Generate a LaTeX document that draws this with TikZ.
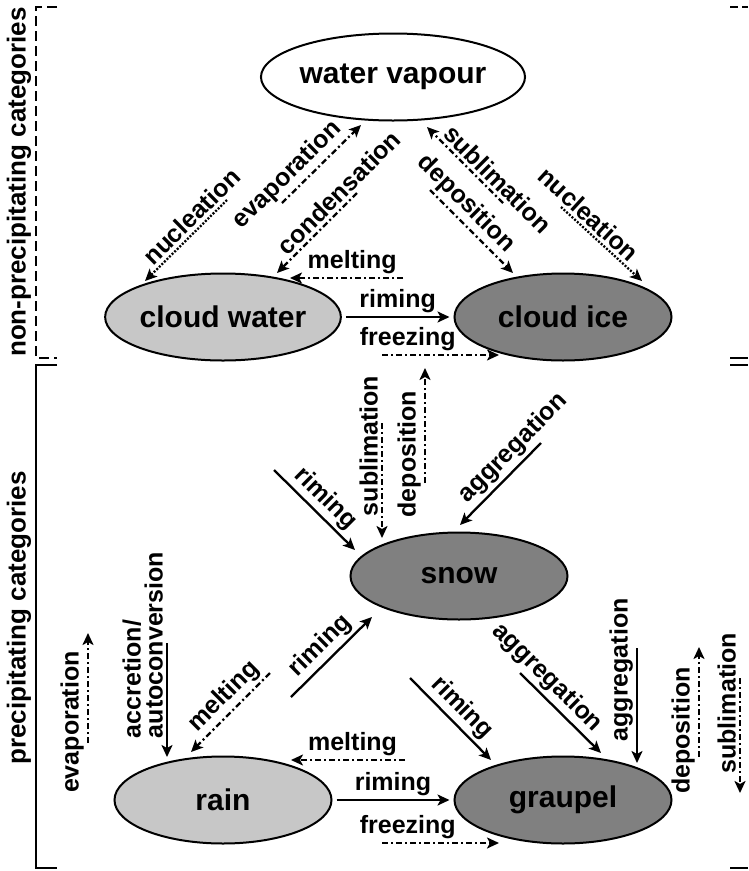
\documentclass[tikz,border=0pt]{standalone}
\usepackage{fontspec}
\setmainfont{Liberation Sans}
\usetikzlibrary{shapes.geometric, arrows.meta}

\definecolor{liquidgray}{gray}{0.78}
\definecolor{icegray}{gray}{0.5}

\begin{document}
\begin{tikzpicture}[x=1pt, y=-1pt,
    category/.style={ellipse, draw, line width=2pt, minimum width=217pt, minimum height=87pt,
                     inner sep=0pt, font=\fontsize{30}{36}\selectfont\bfseries},
    proc/.style={line width=2.3pt, -{Stealth[length=12pt, width=11pt, inset=3pt]}},
    phase/.style={proc, dash pattern=on 6pt off 3pt on 2pt off 3pt},
    seed/.style={proc, dash pattern=on 2pt off 1.6pt},
    lbl/.style={font=\fontsize{25}{22}\selectfont\bfseries, inner sep=3pt},
    side/.style={font=\fontsize{26}{30}\selectfont\bfseries, rotate=90},
    bracket/.style={line width=1.5pt}]
    \useasboundingbox (0,0) rectangle (748,871);

    % categories
    \node[category, fill=white]      (vapour)  at (393,77)  {water vapour};
    \node[category, fill=liquidgray] (cwater)  at (223,317) {cloud water};
    \node[category, fill=icegray]    (cice)    at (563,317) {cloud ice};
    \node[category, fill=icegray]    (snow)    at (459,576) {snow};
    \node[category, fill=liquidgray] (rain)    at (223,800) {rain};
    \node[category, fill=icegray]    (graupel) at (563,800) {graupel};

    % brackets on the left and right
    \draw[bracket, dash pattern=on 10pt off 5pt] (57,7) -- (36,7) -- (36,358) -- (57,358);
    \draw[bracket] (57,365) -- (36,365) -- (36,868) -- (57,868);
    \draw[bracket, dash pattern=on 8pt off 4pt] (730,7) -- (748,7);
    \draw[bracket] (730,358) -- (748,358);
    \draw[bracket] (730,365) -- (748,365);
    \draw[bracket] (730,868) -- (748,868);
    \node[side] (nonprecip) at (19,182) {non-precipitating categories};
    \node[side] (precip)    at (19,618) {precipitating categories};

    % end points of the processes
    \coordinate (nucLa) at (227,200);  \coordinate (nucLb) at (145,281);
    \coordinate (evapa) at (282,203);  \coordinate (evapb) at (361,125);
    \coordinate (conda) at (357,193);  \coordinate (condb) at (277,273);
    \coordinate (subla) at (503,203);  \coordinate (sublb) at (427,127);
    \coordinate (depa)  at (430,190);  \coordinate (depb)  at (513,273);
    \coordinate (nucRa) at (561,207);  \coordinate (nucRb) at (642,281);
    \coordinate (meltCa) at (403,278); \coordinate (meltCb) at (290,278);
    \coordinate (frzCa) at (382,355);  \coordinate (frzCb) at (499,355);

    \coordinate (sublSa) at (382,423); \coordinate (sublSb) at (382,538);
    \coordinate (depSa)  at (425,483); \coordinate (depSb)  at (425,368);
    \coordinate (rimSa)  at (274,470); \coordinate (rimSb)  at (355,550);
    \coordinate (aggSa)  at (541,443); \coordinate (aggSb)  at (460,525);

    \coordinate (evapRa) at (88,743);  \coordinate (evapRb) at (88,633);
    \coordinate (accra)  at (167,643); \coordinate (accrb)  at (167,757);
    \coordinate (meltRa) at (270,673); \coordinate (meltRb) at (191,752);
    \coordinate (rimRa)  at (291,697); \coordinate (rimRb)  at (372,617);
    \coordinate (rimGa)  at (410,678); \coordinate (rimGb)  at (491,760);
    \coordinate (aggGa)  at (520,673); \coordinate (aggGb)  at (601,753);
    \coordinate (aggVa)  at (637,648); \coordinate (aggVb)  at (637,763);
    \coordinate (depGa)  at (699,757); \coordinate (depGb)  at (699,647);
    \coordinate (sublGa) at (740,678); \coordinate (sublGb) at (740,793);
    \coordinate (meltGa) at (405,760); \coordinate (meltGb) at (291,760);
    \coordinate (frzRa)  at (382,843); \coordinate (frzRb)  at (499,843);

    % non-precipitating processes
    \draw[seed]  (nucLa) -- (nucLb) node[lbl, pos=0.32, sloped, above] (nucLl) {nucleation};
    \draw[phase] (evapa) -- (evapb) node[lbl, pos=0.21, sloped, above] (evapl) {evaporation};
    \draw[phase] (conda) -- (condb) node[lbl, pos=0.11, sloped, above] (condl) {condensation};
    \draw[phase] (subla) -- (sublb) node[lbl, pos=0.19, sloped, above] (subll) {sublimation};
    \draw[phase] (depa)  -- (depb)  node[lbl, pos=0.30, sloped, above] (depl)  {deposition};
    \draw[seed]  (nucRa) -- (nucRb) node[lbl, pos=0.23, sloped, above] (nucRl) {nucleation};
    \draw[phase] (meltCa) -- (meltCb) node[lbl, pos=0.45, above] (meltCl) {melting};
    \draw[proc, shorten <=4pt, shorten >=4pt] (cwater) -- (cice) node[lbl, midway, above] (rimCl) {riming};
    \draw[phase] (frzCa) -- (frzCb) node[lbl, pos=0.22, above] (frzCl) {freezing};

    % snow
    \draw[phase] (sublSa) -- (sublSb) node[lbl, pos=0.20, rotate=90, anchor=south] (sublSl) {sublimation};
    \draw[phase] (depSa)  -- (depSb)  node[lbl, pos=0.25, rotate=90, anchor=south] (depSl)  {deposition};
    \draw[proc]  (rimSa)  -- (rimSb)  node[lbl, pos=0.50, sloped, above] (rimSl) {riming};
    \draw[proc]  (aggSa)  -- (aggSb)  node[lbl, pos=0.20, sloped, above] (aggSl) {aggregation};

    % rain and graupel
    \draw[phase] (evapRa) -- (evapRb) node[lbl, pos=0.19, rotate=90, anchor=south] (evapRl) {evaporation};
    \draw[proc]  (accra)  -- (accrb)  node[lbl, pos=0.87, rotate=90, anchor=south west, align=left] (accrl) {accretion/\\autoconversion};
    \draw[phase] (meltRa) -- (meltRb) node[lbl, pos=0.44, sloped, above] (meltRl) {melting};
    \draw[proc]  (rimRa)  -- (rimRb)  node[lbl, pos=0.50, sloped, above] (rimRl) {riming};
    \draw[proc]  (rimGa)  -- (rimGb)  node[lbl, pos=0.50, sloped, above] (rimGl) {riming};
    \draw[proc]  (aggGa)  -- (aggGb)  node[lbl, pos=0.20, sloped, above] (aggGl) {aggregation};
    \draw[proc]  (aggVa)  -- (aggVb)  node[lbl, pos=0.19, rotate=90, anchor=south] (aggVl) {aggregation};
    \draw[phase] (depGa)  -- (depGb)  node[lbl, pos=0.24, rotate=90, anchor=south] (depGl) {deposition};
    \draw[phase] (sublGa) -- (sublGb) node[lbl, pos=0.22, rotate=90, anchor=south] (sublGl) {sublimation};
    \draw[phase] (meltGa) -- (meltGb) node[lbl, pos=0.46, above] (meltGl) {melting};
    \draw[proc, shorten <=4pt, shorten >=4pt] (rain) -- (graupel) node[lbl, midway, above] (rimBl) {riming};
    \draw[phase] (frzRa)  -- (frzRb)  node[lbl, pos=0.22, above] (frzRl) {freezing};
\end{tikzpicture}
\end{document}
